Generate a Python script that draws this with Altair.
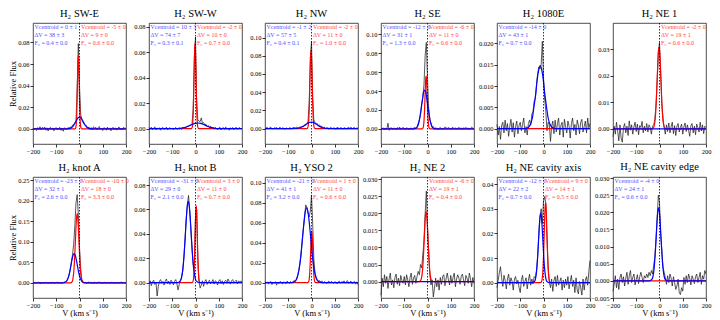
import altair as alt
import pandas as pd

# velocity grid of the spectra (km/s)
V = list(range(-200, 201, 5))

TITLES = ["H₂ SW-E", "H₂ SW-W", "H₂ NW", "H₂ SE", "H₂ 1080E", "H₂ NE 1",
          "H₂ knot A", "H₂ knot B", "H₂ YSO 2", "H₂ NE 2", "H₂ NE cavity axis", "H₂ NE cavity edge"]

# ---- observed spectra, relative flux in units of 1e-4 ----
SPEC_SWE = [5, -10, 8, -15, 12, -5, 20, -8, 15, 3,
            18, -12, 10, -20, 6, 14, -6, 9, -18, 4,
            12, -10, 2, 15, -14, 8, -22, 10, 3, -8,
            12, 5, 18, 10, 35, 40, 58, 75, 380, 790,
            400, 135, 85, 60, 42, 28, 30, 5, 18, -6,
            12, -10, 20, 4, 15, -8, 10, 22, -5, 8,
            -15, 12, 3, -12, 16, -4, 9, -18, 6, 14,
            -7, 10, -12, 5, 18, -6, 8, -10, 15, 2,
            7]
SPEC_SWW = [10, -5, 12, -8, 3, 15, -10, 6, -3, 8,
            -12, 5, 10, -6, 2, 12, -9, 4, 8, -4,
            6, -8, 3, 10, -5, 2, 8, 4, -6, 9,
            5, 12, 10, 22, 18, 30, 28, 40, 150, 560,
            720, 215, 70, 60, 55, 85, 40, 48, 30, 35,
            15, 25, 8, 20, 5, 12, -5, 10, 3, -8,
            6, 12, -10, 4, 9, -6, 14, -3, 5, -12,
            8, -4, 10, -8, 3, 12, -6, 5, 9, -3,
            4]
SPEC_NW = [-5, 8, 12, -3, 10, 15, 2, -6, 9, 4,
           12, -8, 6, 14, -2, 8, 5, -10, 7, 3,
           -6, 10, 4, -3, 8, 12, 2, 15, 5, 10,
           18, 12, 25, 20, 40, 35, 55, 80, 270, 780,
           960, 350, 95, 70, 48, 55, 30, 40, 18, 25,
           8, 15, -5, 10, 3, -8, 6, 12, -4, 9,
           5, -10, 14, 8, -3, 12, 6, -8, 10, 4,
           -6, 9, 13, 2, 15, -4, 8, 11, -2, 6,
           3]
SPEC_SE = [-8, 5, 10, -12, 6, -4, 60, -15, 8, 12,
           -5, 10, 4, -10, 14, 2, 20, -6, 8, 15,
           3, -8, 12, 6, -10, 5, 10, -4, 8, 14,
           5, 25, 55, 95, 150, 270, 340, 470, 780, 915,
           530, 220, 95, 60, 15, 25, -8, 12, 5, -10,
           8, 14, 3, -6, 10, 20, 12, 4, 15, 8,
           -5, 10, 16, 2, 12, -3, 8, 14, 5, 10,
           -8, 12, 6, 15, 3, 10, -6, 8, 20, 4,
           2]
SPEC_1080E = [10, -15, 5, -25, 8, 15, -10, 20, -5, 12,
              -18, 6, 22, -8, 14, -20, 5, 18, -12, 8,
              15, -5, 10, 25, -10, 5, -15, 12, 20, 8,
              35, 40, 65, 70, 105, 130, 145, 140, 150, 205,
              120, 70, 40, -5, 15, 10, -30, 5, 18, -12,
              20, -8, 12, 25, -15, 8, 15, -20, 22, 5,
              -10, 18, 6, -22, 12, 25, -5, 10, -15, 20,
              8, -12, 15, 22, -8, 5, 18, -10, 25, 2,
              12]
SPEC_NE1 = [-30, 10, -20, 25, -10, -45, 15, -35, -50, 5,
            20, -15, 10, -25, 30, -5, 15, -20, 8, 25,
            -10, 18, -22, 12, 5, 28, -15, 10, -8, 20,
            -12, 15, 5, -20, 10, 15, 35, 90, 180, 290,
            325, 215, 95, 40, 5, -20, 15, -10, 22, -15,
            8, 25, -18, 12, -25, 10, 20, -12, 5, 18,
            -20, 8, 22, -10, 15, -5, -28, 12, 20, -15,
            10, -22, 18, 5, -12, 25, -8, 15, -18, 10,
            5]
SPEC_KNOTA = [5, -10, 12, -5, 8, 15, -12, -20, 10, 3,
              -8, 12, 6, -15, 10, 4, -6, 14, 2, -10,
              8, 15, -5, 10, 3, -12, 6, 20, 25, 50,
              105, 190, 320, 500, 690, 950, 1400, 1950, 2150, 1660,
              880, 340, 85, 30, -5, 12, -15, 8, 20, -6,
              10, 4, -12, 15, 6, -8, 12, 18, -4, 9,
              -10, 6, 14, -5, 10, 3, -12, 8, 15, -4,
              7, -8, 12, 4, -6, 10, 16, -3, 8, 5,
              -2]
SPEC_KNOTB = [-10, 15, -25, 8, 20, -15, 5, -110, -30, 12,
              25, -5, 10, -20, 15, 30, -8, 12, -15, 20,
              5, -18, 10, 25, -10, -60, -15, 20, 45, 95,
              210, 350, 520, 640, 715, 590, 440, 280, 150, 120,
              560, 600, 205, 10, -45, -20, 15, -30, 10, 25,
              -15, 8, 20, -10, 5, 25, -12, 15, 8, -20,
              12, 25, -8, 15, -15, 10, 20, -5, 30, 8,
              -12, 15, 25, -5, 10, 20, -10, 15, 5, 12,
              8]
SPEC_YSO2 = [10, -5, 8, -15, 5, 12, -20, 3, -8, 10,
             -25, 6, -10, 12, 4, -15, 8, 2, -12, 15,
             5, -8, 12, -5, 10, 20, 15, 35, 70, 120,
             190, 280, 420, 540, 650, 780, 760, 700, 660, 720,
             880, 600, 240, 95, 50, 30, 15, 20, 5, 18,
             -6, 10, 4, -10, 8, 15, -4, 12, 6, -8,
             10, 3, -12, 8, 14, -6, 10, 5, 18, -5,
             12, 20, -8, 6, 15, -10, 4, 12, -15, 8,
             -20]
SPEC_NE2 = [-40, 10, -15, 20, -5, 15, -20, 8, 25, -10,
            5, -18, 12, 22, -8, 10, -12, 18, 3, -5,
            15, -10, 20, 5, -15, 12, 25, -8, 10, 18,
            -5, 15, 30, 20, 50, 40, 80, 120, 200, 265,
            160, 95, 20, -10, 5, -45, -20, 10, -15, 5,
            -25, 12, -8, 15, 20, -12, 8, 25, 5, -10,
            18, -5, 12, 25, -15, 8, 20, 10, -8, 15,
            22, 5, -12, 18, 10, -5, 25, 8, -15, 12,
            -5]
SPEC_CAXIS = [-20, 10, 40, 65, 20, -15, 30, 10, -25, 15,
              35, -10, 20, 5, -30, 15, 25, -5, 10, -20,
              -40, 12, 30, -15, 5, 20, -25, 10, 35, -10,
              15, -5, 25, 20, 50, 110, 200, 270, 300, 240,
              330, 350, 320, 180, 60, 5, -20, 15, -35, 10,
              25, -15, 30, -10, 5, 20, -30, 10, -20, 15,
              -10, 25, -25, 5, 30, -15, 10, -40, 20, -30,
              -45, 5, -20, -50, 15, -30, 10, 25, -10, 45,
              90]
SPEC_CEDGE = [-30, -10, 15, -20, 5, -25, 10, 20, -5, 12,
              -15, 8, 25, -10, 15, 30, -5, 10, 20, -12,
              5, 18, -8, 12, 25, 10, -5, 15, 8, 20,
              10, 25, 15, 30, 20, 45, 70, 120, 185, 250,
              230, 140, 90, 40, 25, 10, -10, 15, -5, 20,
              8, -15, 12, -5, -25, -15, 5, -35, -40, -20,
              -30, 10, -10, 15, -5, 20, 8, -12, 15, 5,
              -8, 12, 20, -5, 10, 25, -10, 15, 5, 30,
              20]

# ---- fitted components: velocity (km/s) and flux (1e-4) ----
FLAT_V = [-200, 200]
FLAT_F = [0, 0]

BLUE_V_SWE = [-200, -61, -46, -38, -30, -23, -17, -11, -6, 0, 6, 11, 17, 23, 30, 38, 46, 61, 200]
BLUE_F_SWE = [0, 0, 2, 7, 19, 41, 63, 86, 103, 110, 103, 86, 63, 41, 19, 7, 2, 0, 0]
RED_V_SWE = [-200, -19.4, -15.8, -14, -12.2, -10.4, -9.1, -7.7, -6.4, -5, -3.6, -2.3, -1, 0.4, 2.2, 4, 5.8, 9.4, 200]
RED_F_SWE = [0, 0, 13, 43, 115, 251, 388, 530, 639, 680, 639, 530, 388, 251, 115, 43, 13, 0, 0]

BLUE_V_SWW = [-200, -108, -79, -64, -49, -34, -23, -12, -1, 10, 21, 32, 43, 54, 69, 84, 99, 128, 200]
BLUE_F_SWW = [0, 0, 1, 3, 8, 17, 26, 35, 42, 45, 42, 35, 26, 17, 8, 3, 1, 0, 0]
RED_V_SWW = [-200, -18, -14, -12, -10, -8, -6.5, -5, -3.5, -2, -0.5, 1, 2.5, 4, 6, 8, 10, 14, 200]
RED_F_SWW = [0, 0, 12, 42, 114, 247, 382, 522, 629, 670, 629, 522, 382, 247, 114, 42, 12, 0, 0]

BLUE_V_NW = [-200, -92, -69, -58, -47, -35, -27, -18, -10, -1, 8, 16, 25, 33, 45, 56, 67, 90, 200]
BLUE_F_NW = [0, 0, 1, 4, 12, 26, 40, 55, 66, 70, 66, 55, 40, 26, 12, 4, 1, 0, 0]
RED_V_NW = [-200, -19.6, -15.2, -13, -10.8, -8.6, -7, -5.3, -3.7, -2, -0.3, 1.3, 3, 4.6, 6.8, 9, 11.2, 15.6, 200]
RED_F_NW = [0, 0, 16, 54, 146, 317, 490, 670, 808, 860, 808, 670, 490, 317, 146, 54, 16, 0, 0]

BLUE_V_SE = [-200, -62, -49, -43, -37, -31, -26, -21, -17, -12, -7, -3, 2, 7, 13, 19, 25, 38, 200]
BLUE_F_SE = [0, 0, 8, 26, 70, 151, 234, 319, 385, 410, 385, 319, 234, 151, 70, 26, 8, 0, 0]
RED_V_SE = [-200, -23.6, -19.2, -17, -14.8, -12.6, -11, -9.3, -7.7, -6, -4.3, -2.7, -1, 0.6, 2.8, 5, 7.2, 11.6, 200]
RED_F_SE = [0, 0, 10, 35, 94, 205, 317, 434, 523, 557, 523, 434, 317, 205, 94, 35, 10, 0, 0]

BLUE_V_1080E = [-200, -83, -66, -57, -48, -40, -33, -27, -20, -14, -8, -1, 5, 12, 20, 29, 38, 55, 200]
BLUE_F_1080E = [0, 0, 3, 9, 25, 55, 84, 115, 139, 148, 139, 115, 84, 55, 25, 9, 3, 0, 0]

RED_V_NE1 = [-200, -32.4, -24.8, -21, -17.2, -13.4, -10.6, -7.7, -4.9, -2, 0.9, 3.7, 6.6, 9.4, 13.2, 17, 20.8, 28.4, 200]
RED_F_NE1 = [0, 0, 6, 19, 52, 113, 174, 238, 287, 306, 287, 238, 174, 113, 52, 19, 6, 0, 0]

BLUE_V_KNOTA = [-200, -74.2, -61.4, -55, -48.6, -42.2, -37.4, -32.6, -27.8, -23, -18.2, -13.4, -8.6, -3.8, 2.6, 9, 15.4, 28.2, 200]
BLUE_F_KNOTA = [0, 0, 13, 45, 121, 263, 407, 556, 671, 714, 671, 556, 407, 263, 121, 45, 13, 0, 0]
RED_V_KNOTA = [-200, -38.8, -31.6, -28, -24.4, -20.8, -18.1, -15.4, -12.7, -10, -7.3, -4.6, -1.9, 0.8, 4.4, 8, 11.6, 18.8, 200]
RED_F_KNOTA = [0, 0, 31, 106, 287, 623, 963, 1317, 1588, 1690, 1588, 1317, 963, 623, 287, 106, 31, 0, 0]

BLUE_V_KNOTB = [-200, -77.4, -65.8, -60, -54.2, -48.4, -44.1, -39.7, -35.4, -31, -26.7, -22.3, -18, -13.6, -7.8, -2, 3.8, 15.4, 200]
BLUE_F_KNOTB = [0, 0, 12, 42, 113, 245, 380, 519, 626, 666, 626, 519, 380, 245, 113, 42, 12, 0, 0]
RED_V_KNOTB = [-200, -14.6, -10.2, -8, -5.8, -3.6, -2, -0.3, 1.4, 3, 4.7, 6.3, 8, 9.6, 11.8, 14, 16.2, 20.6, 200]
RED_F_KNOTB = [0, 0, 12, 39, 107, 232, 359, 491, 592, 630, 592, 491, 359, 232, 107, 39, 12, 0, 0]

BLUE_V_YSO2 = [-200, -86.6, -70.2, -62, -53.8, -45.6, -39.5, -33.3, -27.2, -21, -14.9, -8.7, -2.6, 3.6, 11.8, 20, 28.2, 44.6, 200]
BLUE_F_YSO2 = [0, 0, 14, 47, 127, 276, 428, 584, 705, 750, 705, 584, 428, 276, 127, 47, 14, 0, 0]
RED_V_YSO2 = [-200, -16.6, -12.2, -10, -7.8, -5.6, -4, -2.3, -0.7, 1, 2.7, 4.3, 6, 7.6, 9.8, 12, 14.2, 18.6, 200]
RED_F_YSO2 = [0, 0, 10, 32, 88, 190, 294, 402, 485, 516, 485, 402, 294, 190, 88, 32, 10, 0, 0]

RED_V_NE2 = [-200, -36.4, -28.8, -25, -21.2, -17.4, -14.6, -11.7, -8.9, -6, -3.1, -0.3, 2.6, 5.4, 9.2, 13, 16.8, 24.4, 200]
RED_F_NE2 = [0, 0, 4, 13, 35, 76, 117, 160, 193, 205, 193, 160, 117, 76, 35, 13, 4, 0, 0]

BLUE_V_CAXIS = [-200, -47.2, -38.4, -34, -29.6, -25.2, -21.9, -18.6, -15.3, -12, -8.7, -5.4, -2.1, 1.2, 5.6, 10, 14.4, 23.2, 200]
BLUE_F_CAXIS = [0, 0, 5, 18, 48, 104, 160, 219, 264, 281, 264, 219, 160, 104, 48, 18, 5, 0, 0]
RED_V_CAXIS = [-200, -13.4, -7.8, -5, -2.2, 0.6, 2.7, 4.8, 6.9, 9, 11.1, 13.2, 15.3, 17.4, 20.2, 23, 25.8, 31.4, 200]
RED_F_CAXIS = [0, 0, 6, 20, 55, 120, 185, 253, 305, 325, 305, 253, 185, 120, 55, 20, 6, 0, 0]

BLUE_V_CEDGE = [-200, -42.4, -32.8, -28, -23.2, -18.4, -14.8, -11.2, -7.6, -4, -0.4, 3.2, 6.8, 10.4, 15.2, 20, 24.8, 34.4, 200]
BLUE_F_CEDGE = [0, 0, 4, 13, 36, 79, 121, 166, 200, 213, 200, 166, 121, 79, 36, 13, 4, 0, 0]

SPECS = [SPEC_SWE, SPEC_SWW, SPEC_NW, SPEC_SE, SPEC_1080E, SPEC_NE1,
         SPEC_KNOTA, SPEC_KNOTB, SPEC_YSO2, SPEC_NE2, SPEC_CAXIS, SPEC_CEDGE]
BLUE_VS = [BLUE_V_SWE, BLUE_V_SWW, BLUE_V_NW, BLUE_V_SE, BLUE_V_1080E, FLAT_V,
           BLUE_V_KNOTA, BLUE_V_KNOTB, BLUE_V_YSO2, FLAT_V, BLUE_V_CAXIS, BLUE_V_CEDGE]
BLUE_FS = [BLUE_F_SWE, BLUE_F_SWW, BLUE_F_NW, BLUE_F_SE, BLUE_F_1080E, FLAT_F,
           BLUE_F_KNOTA, BLUE_F_KNOTB, BLUE_F_YSO2, FLAT_F, BLUE_F_CAXIS, BLUE_F_CEDGE]
RED_VS = [RED_V_SWE, RED_V_SWW, RED_V_NW, RED_V_SE, FLAT_V, RED_V_NE1,
          RED_V_KNOTA, RED_V_KNOTB, RED_V_YSO2, RED_V_NE2, RED_V_CAXIS, FLAT_V]
RED_FS = [RED_F_SWE, RED_F_SWW, RED_F_NW, RED_F_SE, FLAT_F, RED_F_NE1,
          RED_F_KNOTA, RED_F_KNOTB, RED_F_YSO2, RED_F_NE2, RED_F_CAXIS, FLAT_F]

# ---- fit annotations ----
BLUE_TXT = [
    ["Vcentroid = 0 ± 1", "ΔV = 38 ± 3", "F₀ = 0.4 ± 0.0"],
    ["Vcentroid = 10 ± 3", "ΔV = 74 ± 7", "F₀ = 0.3 ± 0.1"],
    ["Vcentroid = -1 ± 2", "ΔV = 57 ± 5", "F₀ = 0.4 ± 0.1"],
    ["Vcentroid = -12 ± 0", "ΔV = 31 ± 1", "F₀ = 1.3 ± 0.0"],
    ["Vcentroid = -14 ± 0", "ΔV = 43 ± 1", "F₀ = 0.7 ± 0.0"],
    [],
    ["Vcentroid = -23 ± 1", "ΔV = 32 ± 1", "F₀ = 2.6 ± 0.0"],
    ["Vcentroid = -31 ± 0", "ΔV = 29 ± 0", "F₀ = 2.1 ± 0.0"],
    ["Vcentroid = -21 ± 0", "ΔV = 41 ± 1", "F₀ = 3.2 ± 0.0"],
    [],
    ["Vcentroid = -12 ± 1", "ΔV = 22 ± 2", "F₀ = 0.7 ± 0.0"],
    ["Vcentroid = -4 ± 0", "ΔV = 24 ± 1", "F₀ = 0.6 ± 0.0"],
]
RED_TXT = [
    ["Vcentroid = -5 ± 0", "ΔV = 9 ± 0", "F₀ = 0.6 ± 0.0"],
    ["Vcentroid = -2 ± 0", "ΔV = 10 ± 0", "F₀ = 0.7 ± 0.0"],
    ["Vcentroid = -2 ± 0", "ΔV = 11 ± 0", "F₀ = 1.0 ± 0.0"],
    ["Vcentroid = -6 ± 0", "ΔV = 11 ± 0", "F₀ = 0.6 ± 0.0"],
    [],
    ["Vcentroid = -2 ± 0", "ΔV = 19 ± 1", "F₀ = 0.6 ± 0.0"],
    ["Vcentroid = -10 ± 0", "ΔV = 18 ± 0", "F₀ = 3.3 ± 0.0"],
    ["Vcentroid = 3 ± 0", "ΔV = 11 ± 0", "F₀ = 0.7 ± 0.0"],
    ["Vcentroid = 1 ± 0", "ΔV = 11 ± 0", "F₀ = 0.6 ± 0.0"],
    ["Vcentroid = -6 ± 0", "ΔV = 19 ± 1", "F₀ = 0.4 ± 0.0"],
    ["Vcentroid = 9 ± 0", "ΔV = 14 ± 1", "F₀ = 0.5 ± 0.0"],
    [],
]

# ---- axes ----
XTICKS = [-200, -100, 0, 100, 200]
YMIN = [-0.014, -0.012, -0.017, -0.016, -0.0036, -0.0057,
        -0.037, -0.0126, -0.0154, -0.0048, -0.0062, -0.005]
YMAX = [0.098, 0.083, 0.116, 0.112, 0.0248, 0.0398,
        0.258, 0.0866, 0.106, 0.0306, 0.0429, 0.0303]
YTICKS = [
    [0, 0.02, 0.04, 0.06, 0.08],
    [0, 0.02, 0.04, 0.06, 0.08],
    [0, 0.02, 0.04, 0.06, 0.08, 0.10],
    [0, 0.02, 0.04, 0.06, 0.08, 0.10],
    [0, 0.005, 0.010, 0.015, 0.020],
    [0, 0.01, 0.02, 0.03],
    [0, 0.05, 0.10, 0.15, 0.20, 0.25],
    [0, 0.02, 0.04, 0.06, 0.08],
    [0, 0.02, 0.04, 0.06, 0.08, 0.10],
    [-0.005, 0, 0.005, 0.010, 0.015, 0.020, 0.025, 0.030],
    [0, 0.01, 0.02, 0.03, 0.04],
    [-0.005, 0, 0.005, 0.010, 0.015, 0.020, 0.025, 0.030],
]
YFMT = [".2f", ".2f", ".2f", ".2f", ".3f", ".2f",
        ".2f", ".2f", ".2f", ".3f", ".2f", ".3f"]

for s in SPECS:
    assert len(s) == len(V), len(s)

FONT = "Liberation Serif"
PW, PH = 93, 121


def panel(i):
    spec = pd.DataFrame({"v": V, "f": [s / 1e4 for s in SPECS[i]]})
    blue = pd.DataFrame({"v": BLUE_VS[i], "f": [s / 1e4 for s in BLUE_FS[i]]})
    red = pd.DataFrame({"v": RED_VS[i], "f": [s / 1e4 for s in RED_FS[i]]})
    xs = alt.Scale(domain=[-200, 200], nice=False)
    ys = alt.Scale(domain=[YMIN[i], YMAX[i]], nice=False, zero=False)
    xkw = dict(values=XTICKS, tickCount=20, labelFlush=False, labelOverlap=False, format="d")
    xkw["title"] = "V (km s⁻¹)" if i >= 6 else ""
    ykw = dict(values=YTICKS[i], tickCount=20, format=YFMT[i], labelOverlap=False)
    ykw["title"] = "Relative Flux" if i % 6 == 0 else ""
    x = alt.X("v:Q", scale=xs, axis=alt.Axis(**xkw))
    y = alt.Y("f:Q", scale=ys, axis=alt.Axis(**ykw))
    x2 = alt.X("v:Q", scale=xs)
    y2 = alt.Y("f:Q", scale=ys)

    layers = [
        alt.Chart(spec).mark_line(color="#222222", strokeWidth=0.75).encode(x=x, y=y),
        alt.Chart(red).mark_line(color="#ff0000", strokeWidth=1.2, interpolate="monotone").encode(x=x2, y=y2),
        alt.Chart(blue).mark_line(color="#0000ff", strokeWidth=1.2, interpolate="monotone").encode(x=x2, y=y2),
        alt.Chart(pd.DataFrame({"v": [0]})).mark_rule(
            color="black", strokeWidth=0.8, strokeDash=[1.5, 1.5]).encode(x=x2),
    ]
    if BLUE_TXT[i]:
        layers.append(
            alt.Chart(pd.DataFrame({"t": ["\n".join(BLUE_TXT[i])]})).mark_text(
                align="left", baseline="top", fontSize=6, lineHeight=8,
                lineBreak="\n", color="#5050ff", font=FONT
            ).encode(x=alt.value(1.5), y=alt.value(1), text="t:N")
        )
    if RED_TXT[i]:
        layers.append(
            alt.Chart(pd.DataFrame({"t": ["\n".join(RED_TXT[i])], "v": [0]})).mark_text(
                align="left", baseline="top", fontSize=6, lineHeight=8,
                lineBreak="\n", color="#ff4444", font=FONT, dx=1.5
            ).encode(x=x2, y=alt.value(1), text="t:N")
        )
    return alt.layer(*layers).properties(
        width=PW, height=PH,
        title=alt.TitleParams(TITLES[i], fontSize=10.5, fontWeight="normal", offset=3, font=FONT),
    )


panels = [panel(i) for i in range(12)]

chart = alt.concat(
    *panels, columns=6, spacing={"row": 33, "column": 23}, bounds="flush"
).properties(
    padding=0
).configure(
    font=FONT
).configure_view(
    stroke="#222222", strokeWidth=0.8
).configure_axis(
    labelFontSize=6.5, labelFont=FONT, labelColor="black", labelPadding=1,
    tickSize=3, tickColor="black", tickWidth=0.8,
    domain=False, grid=False,
    titleFontSize=8.5, titleFont=FONT, titleFontWeight="normal", titleColor="black",
    titlePadding=0,
)

chart.save("out.html", embed_options={"renderer": "svg", "actions": False})
